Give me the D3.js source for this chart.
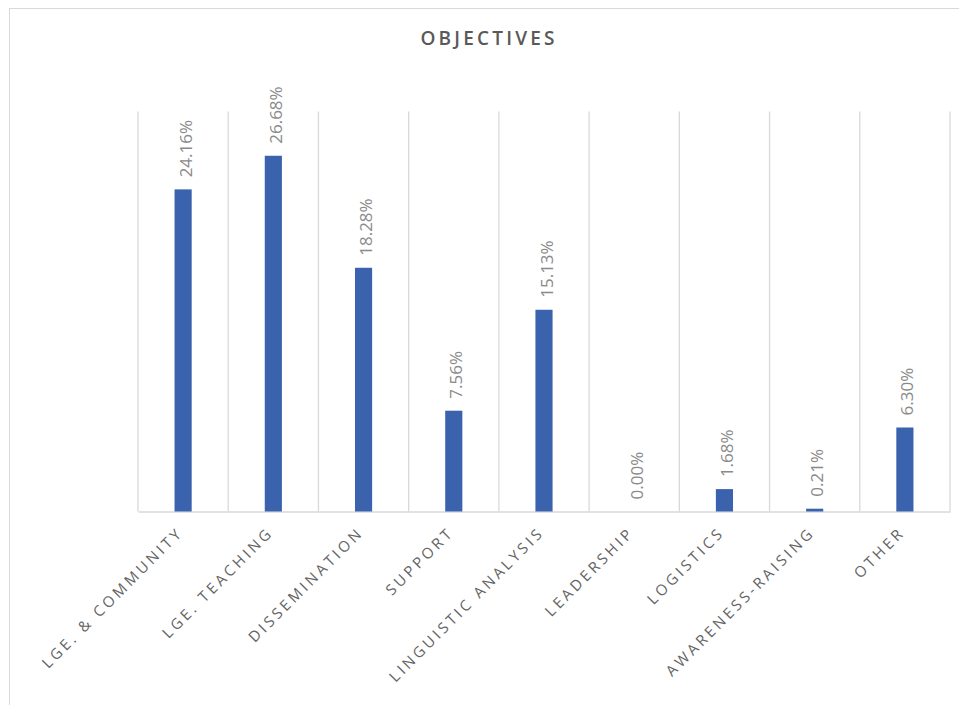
<!DOCTYPE html>
<html>
<head>
<meta charset="utf-8">
<script src="https://cdn.jsdelivr.net/npm/d3@7"></script>
<style>
  html, body { margin: 0; padding: 0; background: #fff; }
  svg { display: block; }
</style>
</head>
<body>
<svg id="chart" width="959" height="705"></svg>
<script>
// Share of objectives (percent)
const categories = [
  "LGE. & COMMUNITY", "LGE. TEACHING", "DISSEMINATION", "SUPPORT",
  "LINGUISTIC ANALYSIS", "LEADERSHIP", "LOGISTICS", "AWARENESS-RAISING", "OTHER"
];
const values = [24.16, 26.68, 18.28, 7.56, 15.13, 0.00, 1.68, 0.21, 6.30];
const valueLabels = ["24.16%", "26.68%", "18.28%", "7.56%", "15.13%", "0.00%", "1.68%", "0.21%", "6.30%"];
const yDomain = [0, 30];
const title = "OBJECTIVES";

const svg = d3.select("#chart");
const plot = { left: 138, right: 950, top: 111.5, bottom: 511.5 };
const font = "'Open Sans', 'Noto Sans', sans-serif";

// chart frame
svg.append("rect")
  .attr("x", 9.5).attr("y", 8.5)
  .attr("width", 980).attr("height", 720)
  .attr("fill", "#fff")
  .attr("stroke", "#d9d9d9").attr("stroke-width", 1);

const x = d3.scaleBand().domain(categories).range([plot.left, plot.right]).paddingInner(0).paddingOuter(0);
const y = d3.scaleLinear().domain(yDomain).range([plot.bottom, plot.top]);

// vertical gridlines on category boundaries
const edges = categories.map(c => x(c)).concat([x(categories[categories.length - 1]) + x.bandwidth()]);
svg.append("g").selectAll("line").data(edges).join("line")
  .attr("x1", d => d).attr("x2", d => d)
  .attr("y1", y(yDomain[1])).attr("y2", y(0))
  .attr("stroke", "#d9d9d9").attr("stroke-width", 1.3);

// category axis
const xAxis = svg.append("g")
  .attr("transform", `translate(0,${y(0)})`)
  .call(d3.axisBottom(x).tickSize(0).tickPadding(0));
xAxis.select(".domain").attr("stroke", "#d9d9d9").attr("stroke-width", 1.3);
xAxis.selectAll(".tick text")
  .attr("font-family", font)
  .attr("font-size", 15)
  .attr("font-weight", 400)
  .attr("letter-spacing", "3.2px")
  .attr("fill", "#646464")
  .attr("text-anchor", "end")
  .attr("dy", 0)
  .attr("transform", "translate(1,22) rotate(-45)");

// bars
const barW = x.bandwidth() * 0.19;
const cx = c => x(c) + x.bandwidth() / 2;
svg.append("g").selectAll("rect").data(categories).join("rect")
  .attr("x", c => cx(c) - barW / 2)
  .attr("y", (c, i) => y(values[i]))
  .attr("width", barW)
  .attr("height", (c, i) => y(0) - y(values[i]))
  .attr("fill", "#3b63ad");

// value labels, rotated
svg.append("g").selectAll("text").data(categories).join("text")
  .attr("transform", (c, i) => `translate(${cx(c) + 8.5},${y(values[i]) - 12}) rotate(-90)`)
  .attr("font-family", font)
  .attr("font-size", 17)
  .attr("font-weight", 400)
  .attr("fill", "#8a8a8a")
  .attr("text-anchor", "start")
  .text((c, i) => valueLabels[i]);

// title
svg.append("text")
  .attr("x", 489).attr("y", 45)
  .attr("text-anchor", "middle")
  .attr("font-family", font)
  .attr("font-size", 19)
  .attr("font-weight", 600)
  .attr("letter-spacing", "3.2px")
  .attr("fill", "#595959")
  .text(title);
</script>
</body>
</html>
